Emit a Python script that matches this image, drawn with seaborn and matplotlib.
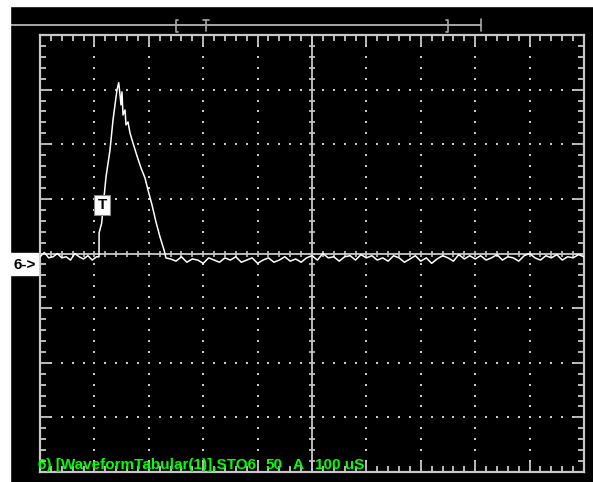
import numpy as np
import pandas as pd
import seaborn as sns
import matplotlib.pyplot as plt
from matplotlib.patches import Rectangle
from matplotlib.lines import Line2D

# scope settings: 100 uS/div, 50 A/div
time_per_div = 100
amps_per_div = 50
n_xdiv = 10
n_ydiv = 8

# baseline before the pulse (uS, A)
pre_t = [0, 8, 16, 24, 32, 40, 48, 56, 64, 72, 80, 88, 96, 104]
pre_i = [-3, 1, -4, -3, 0, -4, -3, -6, 0, -3, -5, -2, -6, -3]

# the current pulse
pulse_t = [108.5, 108.6, 113.4, 115.8, 121.3, 128.7, 134.2, 141.5, 144.7, 147.1, 148.9,
           150.7, 152.6, 156.3, 158.1, 161.8, 165.4, 170.9, 178.3, 185.7, 193.0, 198.5,
           205.9, 213.2, 220.6, 228.0, 231.6]
pulse_i = [-3, 18.8, 27.9, 41.7, 70.0, 94.8, 122.2, 149.7, 156.4, 145.1, 136.0,
           147.9, 126.8, 131.4, 117.7, 120.4, 110.3, 101.2, 89.3, 78.3, 69.1, 58.2,
           44.4, 28.8, 15.1, 3.2, -4.1]

# baseline after the pulse
post_t = [240, 250, 260, 270, 280, 290, 300, 310, 320, 330, 340, 350, 360, 370, 380,
          390, 400, 410, 420, 430, 440, 450, 460, 470, 480, 490, 500, 510, 520, 530,
          540, 550, 560, 570, 580, 590, 600, 610, 620, 630, 640, 650, 660, 670, 680,
          690, 700, 710, 720, 730, 740, 750, 760, 770, 780, 790, 800, 810, 820, 830,
          840, 850, 860, 870, 880, 890, 900, 910, 920, 930, 940, 950, 960, 970, 980,
          990, 1000]
post_i = [-5, -7, -3, -8, -5, -6, -9, -4, -6, -8, -4, -6, -3, -8, -6,
          -4, -9, -6, -4, -8, -6, -3, -7, -5, -8, -4, -2, -6, 0, -4,
          -3, -7, -3, -2, -6, -1, -4, -2, -6, -4, -7, -2, -4, -8, -5,
          -2, -7, -4, -9, -5, -2, -4, -7, -1, -5, -2, -5, -2, -6, -4,
          -1, -6, -3, -4, -7, -2, 0, -4, -6, -2, -4, -1, -6, -3, -4,
          -1, -3]

trace = pd.DataFrame({'t': pre_t + pulse_t + post_t,
                      'i': pre_i + pulse_i + post_i})

sns.set_theme(style='dark', rc={'axes.facecolor': 'black', 'figure.facecolor': 'black'})
grat = '#c8c8c8'

fig = plt.figure(figsize=(5.93, 4.82), dpi=100)
# white strips at left and top of the screenshot
fig.patches.append(Rectangle((0, 0), 10 / 593, 1, transform=fig.transFigure, color='white', zorder=0))
fig.patches.append(Rectangle((0, 1 - 6 / 482), 1, 6 / 482, transform=fig.transFigure, color='white', zorder=0))

ax = fig.add_axes([40 / 593, 10 / 482, 544 / 593, 437 / 482])
xmax = time_per_div * n_xdiv
ymax = amps_per_div * n_ydiv / 2
ax.set_xlim(0, xmax)
ax.set_ylim(-ymax, ymax)

# border ticks
ax.set_xticks(np.arange(0, xmax + 1, time_per_div))
ax.set_xticks(np.arange(0, xmax + 1, time_per_div / 5), minor=True)
ax.set_yticks(np.arange(-ymax, ymax + 1, amps_per_div))
ax.set_yticks(np.arange(-ymax, ymax + 1, amps_per_div / 5), minor=True)
ax.tick_params(which='both', direction='in', top=True, right=True, bottom=True, left=True,
               labelbottom=False, labelleft=False, color=grat, width=1.3)
ax.tick_params(which='major', length=8)
ax.tick_params(which='minor', length=4)
for s in ax.spines.values():
    s.set_color(grat)
    s.set_linewidth(1.6)
ax.grid(False)

# dotted graticule
mx = np.arange(0, xmax + 1, time_per_div / 5)
my = np.arange(-ymax, ymax + 1, amps_per_div / 5)
for gx in np.arange(time_per_div, xmax, time_per_div):
    ax.scatter(np.full(len(my), gx), my, s=1.2, color=grat, marker='s', linewidths=0)
for gy in np.arange(-ymax + amps_per_div, ymax, amps_per_div):
    ax.scatter(mx, np.full(len(mx), gy), s=1.2, color=grat, marker='s', linewidths=0)

# centre cross with ticks
ax.axhline(0, color=grat, lw=1.3)
ax.axvline(xmax / 2, color=grat, lw=1.3)
ax.plot(mx, np.zeros(len(mx)), ls='none', marker='|', ms=5, mew=1.2, color=grat)
ax.plot(np.full(len(my), xmax / 2), my, ls='none', marker='_', ms=5, mew=1.2, color=grat)

sns.lineplot(data=trace, x='t', y='i', ax=ax, color='white', lw=1.1, sort=False,
             estimator=None, zorder=5)
ax.set_xlabel('')
ax.set_ylabel('')

# overlay in pixel coordinates for the scope annotations
ov = fig.add_axes([0, 0, 1, 1], facecolor='none')
ov.set_xlim(0, 593)
ov.set_ylim(482, 0)
ov.axis('off')
bar = '#a8a8a8'
ov.add_line(Line2D([10, 481], [25, 25], color=bar, lw=1.4))
ov.add_line(Line2D([178, 176, 176, 178], [20, 20, 32, 32], color=bar, lw=1.2))
ov.add_line(Line2D([206, 206], [20, 31], color=bar, lw=1.2))
ov.add_line(Line2D([203, 209], [20, 20], color=bar, lw=1.2))
ov.add_line(Line2D([446, 448, 448, 446], [20, 20, 32, 32], color=bar, lw=1.2))
ov.add_line(Line2D([481, 481], [19, 31], color=bar, lw=1.2))

ov.add_patch(Rectangle((10, 253), 28, 22, color='white'))
ov.text(13, 265, '6->', color='black', fontsize=11, fontweight='bold',
        family='Liberation Sans', va='center', ha='left')

ov.text(102, 205, 'T', color='black', fontsize=11, fontweight='bold', family='Liberation Sans',
        va='center', ha='center',
        bbox=dict(boxstyle='square,pad=0.2', fc='white', ec='#888888', lw=0.8))

green = '#00ff00'
tkw = dict(color=green, fontsize=11, fontweight='bold', family='Liberation Sans', va='baseline')
ov.text(38, 469, '6) [WaveformTabular(1)],STO6', **tkw)
ov.text(265, 469, '50', **tkw)
ov.text(293, 469, 'A', **tkw)
ov.text(315, 469, '100 uS', **tkw)

fig.savefig('out.png', dpi=100, facecolor='black')
